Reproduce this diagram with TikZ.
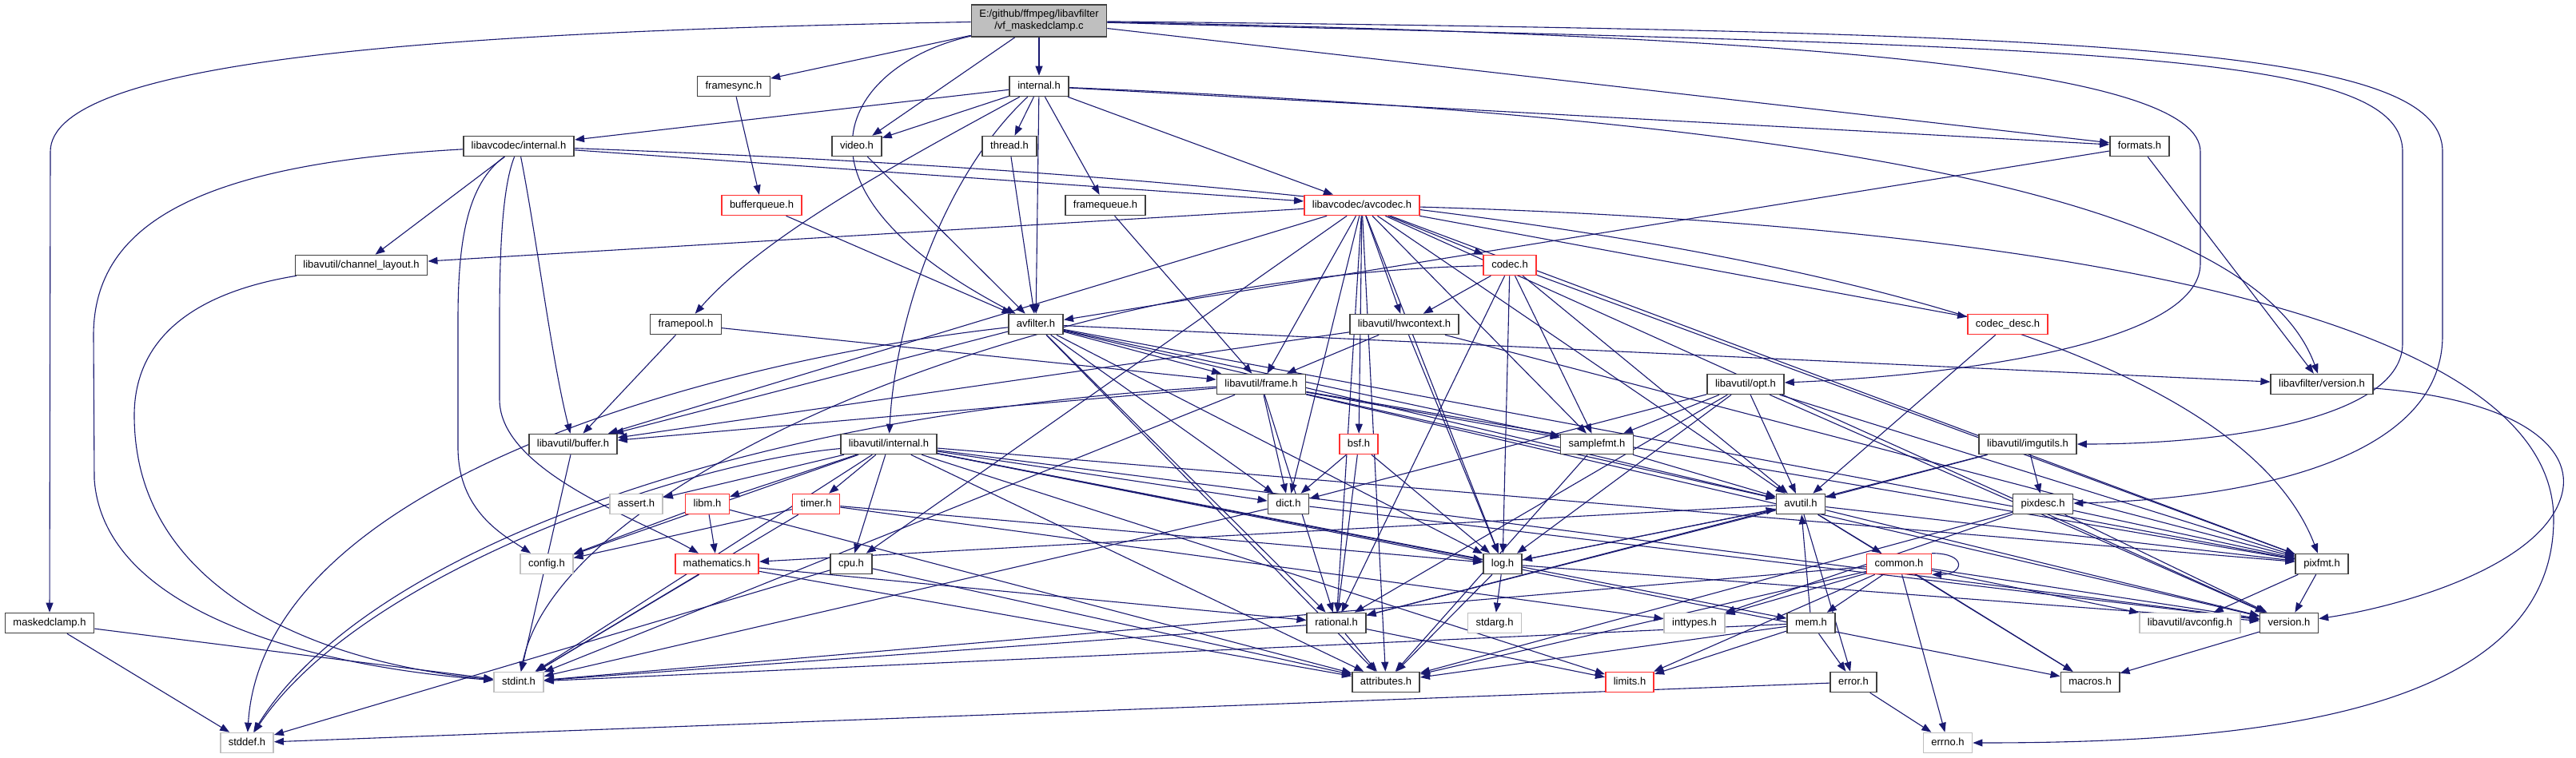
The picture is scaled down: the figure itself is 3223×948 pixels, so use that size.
\documentclass[tikz,border=0pt]{standalone}
\usepackage{fontspec}
\setmainfont{Liberation Sans}
\usetikzlibrary{arrows.meta}
\definecolor{edgeblue}{HTML}{191970}
\definecolor{nborder}{HTML}{404040}
\definecolor{rborder}{HTML}{FF3030}
\definecolor{gborder}{HTML}{BFBFBF}
\definecolor{mainfill}{HTML}{BFBFBF}
\pgfdeclarelayer{bg}
\pgfdeclarelayer{edges}
\pgfsetlayers{bg,edges,main}
\begin{document}
\begin{tikzpicture}[x=1pt,y=-1pt,
 base/.style={fill=white, line width=1.6pt, font=\fontsize{13}{15}\selectfont, minimum height=25pt, inner xsep=10pt, inner ysep=0pt, text height=9.5pt, text depth=2.5pt},
 nb/.style={base, draw=nborder},
 nr/.style={base, draw=rborder},
 ng/.style={base, draw=gborder},
 mainbox/.style={fill=mainfill, draw=nborder, line width=1.6pt, font=\fontsize{13}{15}\selectfont, minimum height=40pt, minimum width=169pt, inner xsep=8pt, inner ysep=3pt, align=center},
 e/.style={draw=edgeblue, line width=1.1pt, -{Triangle[length=12pt,width=9pt]}},
]
\begin{pgfonlayer}{bg}
\fill[white] (0,0) rectangle (3223,948);
\end{pgfonlayer}
\useasboundingbox (0,0) rectangle (3223,948);

\node[mainbox] (main) at (1300,26) {E:/github/ffmpeg/libavfilter\\/vf\_maskedclamp.c};
\node[nb] (framesync) at (918,108) {framesync.h};
\node[nb] (internal) at (1300,108) {internal.h};
\node[nb] (lavcinternal) at (649,183) {libavcodec/internal.h};
\node[nb] (video) at (1072,183) {video.h};
\node[nb] (thread) at (1263,183) {thread.h};
\node[nb] (formats) at (2677,183) {formats.h};
\node[nr] (bufferqueue) at (953,257) {bufferqueue.h};
\node[nb] (framequeue) at (1383,257) {framequeue.h};
\node[nr] (avcodec) at (1704,257) {libavcodec/avcodec.h};
\node[nb] (chlayout) at (452,332) {libavutil/channel\_layout.h};
\node[nr] (codec) at (1889,332) {codec.h};
\node[nb] (framepool) at (858,406) {framepool.h};
\node[nb] (avfilter) at (1296,406) {avfilter.h};
\node[nb] (hwcontext) at (1757,406) {libavutil/hwcontext.h};
\node[nr] (codecdesc) at (2512,406) {codec\_desc.h};
\node[nb] (frame) at (1578,481) {libavutil/frame.h};
\node[nb] (opt) at (2184,481) {libavutil/opt.h};
\node[nb] (lavfversion) at (2905,481) {libavfilter/version.h};
\node[nb] (buffer) at (717,556) {libavutil/buffer.h};
\node[nb] (lavuinternal) at (1112,556) {libavutil/internal.h};
\node[nr] (bsf) at (1700,556) {bsf.h};
\node[nb] (samplefmt) at (1998,556) {samplefmt.h};
\node[nb] (imgutils) at (2537,556) {libavutil/imgutils.h};
\node[ng] (assert) at (796,631) {assert.h};
\node[nr] (libm) at (885,631) {libm.h};
\node[nr] (timer) at (1021,631) {timer.h};
\node[nb] (dict) at (1612,631) {dict.h};
\node[nb] (avutil) at (2253,631) {avutil.h};
\node[nb] (pixdesc) at (2556,631) {pixdesc.h};
\node[ng] (config) at (684,706) {config.h};
\node[nr] (mathematics) at (897,706) {mathematics.h};
\node[nb] (cpu) at (1065,706) {cpu.h};
\node[nb] (log) at (1880,706) {log.h};
\node[nr] (common) at (2376,706) {common.h};
\node[nb] (pixfmt) at (2905,706) {pixfmt.h};
\node[nb] (maskedclamp) at (62,780) {maskedclamp.h};
\node[nb] (rational) at (1672,780) {rational.h};
\node[ng] (stdarg) at (1870,780) {stdarg.h};
\node[ng] (inttypes) at (2120,780) {inttypes.h};
\node[nb] (mem) at (2266,780) {mem.h};
\node[ng] (avconfig) at (2740,780) {libavutil/avconfig.h};
\node[nb] (version) at (2864,780) {version.h};
\node[ng] (stdint) at (649,854) {stdint.h};
\node[nb] (attributes) at (1734,854) {attributes.h};
\node[nr] (limits) at (2039,854) {limits.h};
\node[nb] (error) at (2319,854) {error.h};
\node[nb] (macros) at (2615,854) {macros.h};
\node[ng] (stddef) at (309,930) {stddef.h};
\node[ng] (errno) at (2437,930) {errno.h};

\begin{pgfonlayer}{edges}
\foreach \s/\t in {main/framesync, main/internal, main/video, main/formats,
 internal/video, internal/thread, internal/framequeue, internal/avfilter, internal/lavcinternal, internal/avcodec, internal/formats,
 framesync/bufferqueue, bufferqueue/avfilter, video/avfilter, thread/avfilter, framequeue/frame, framepool/buffer, framepool/frame, formats/avfilter, formats/lavfversion,
 lavcinternal/chlayout, lavcinternal/avcodec,
 avcodec/chlayout, avcodec/buffer, avcodec/codec, avcodec/hwcontext, avcodec/frame, avcodec/dict, avcodec/bsf, avcodec/samplefmt, avcodec/log, avcodec/avutil, avcodec/pixfmt, avcodec/rational, avcodec/attributes, avcodec/cpu, avcodec/codecdesc, avcodec/version,
 codec/hwcontext, codec/log, codec/rational, codec/samplefmt, codec/avutil, codec/pixfmt,
 hwcontext/frame, hwcontext/buffer, hwcontext/log, hwcontext/pixfmt,
 frame/buffer, frame/dict, frame/rational, frame/samplefmt, frame/avutil, frame/pixfmt, frame/version, frame/stdint,
 avfilter/frame, avfilter/buffer, avfilter/dict, avfilter/log, avfilter/samplefmt, avfilter/avutil, avfilter/pixfmt, avfilter/rational, avfilter/attributes, avfilter/lavfversion,
 opt/samplefmt, opt/avutil, opt/dict, opt/log, opt/rational, opt/pixfmt, opt/version,
 samplefmt/avutil, samplefmt/attributes, bsf/dict, bsf/log, bsf/rational, dict/stdint, dict/version, codecdesc/avutil,
 imgutils/avutil, imgutils/pixdesc, imgutils/rational,
 pixdesc/inttypes, pixdesc/attributes, pixdesc/pixfmt, pixdesc/version,
 avutil/common, avutil/error, avutil/rational, avutil/version, avutil/macros, avutil/mathematics, avutil/log, avutil/pixfmt,
 common/mem, common/inttypes, common/limits, common/errno, common/attributes, common/macros, common/version, common/avconfig, common/stdint,
 lavuinternal/assert, lavuinternal/libm, lavuinternal/timer, lavuinternal/cpu, lavuinternal/config, lavuinternal/stdint, lavuinternal/attributes, lavuinternal/dict, lavuinternal/macros, lavuinternal/mem, lavuinternal/pixfmt, lavuinternal/version, lavuinternal/limits, lavuinternal/log,
 libm/config, libm/attributes, libm/mathematics,
 timer/stdint, timer/inttypes, timer/log, timer/config,
 mathematics/stdint, mathematics/attributes, mathematics/rational,
 cpu/stddef, cpu/attributes,
 log/stdarg, log/avutil, log/attributes, log/version,
 rational/stdint, rational/limits, rational/attributes,
 mem/limits, mem/stdint, mem/attributes, mem/error, mem/avutil,
 error/errno, error/stddef,
 pixfmt/avconfig, pixfmt/version, version/macros, buffer/stdint,
 maskedclamp/stdint, maskedclamp/stddef}
 \draw[e] (\s) -- (\t);

\draw[e] (main) .. controls (500,40) and (63,80) .. (63,190) -- (maskedclamp);
\draw[e] (main) .. controls (1060,80) and (960,230) .. (avfilter);
\draw[e] (main) .. controls (2300,45) and (2753,90) .. (2753,190) -- (2753,330) .. controls (2753,430) and (2450,470) .. (opt);
\draw[e] (main) .. controls (2600,60) and (3006,60) .. (3006,190) -- (3006,430) .. controls (3006,520) and (2800,556) .. (imgutils);
\draw[e] (main) .. controls (2650,40) and (3056,60) .. (3056,190) -- (3056,420) .. controls (3056,580) and (2800,625) .. (pixdesc);
\draw[e] (internal) .. controls (1150,190) and (960,290) .. (framepool);
\draw[e] (internal) .. controls (1180,220) and (1120,400) .. (lavuinternal);
\draw[e] (internal) .. controls (2300,150) and (2820,250) .. (lavfversion);
\draw[e] (lavcinternal) .. controls (585,230) and (573,300) .. (573,400) -- (573,560) .. controls (573,640) and (630,670) .. (config);
\draw[e] (lavcinternal) .. controls (630,230) and (625,300) .. (625,400) -- (625,500) .. controls (625,590) and (800,650) .. (mathematics);
\draw[e] (lavcinternal) .. controls (672,300) and (690,450) .. (buffer);
\draw[e] (lavcinternal) .. controls (250,205) and (117,280) .. (117,420) -- (118,600) .. controls (130,770) and (400,835) .. (stdint);
\draw[e] (chlayout) .. controls (220,370) and (168,440) .. (168,520) .. controls (168,740) and (400,830) .. (stdint);
\draw[e] (lavcinternal) .. controls (1500,215) and (2750,300) .. (pixfmt);
\draw[e] (lavfversion) .. controls (3150,500) and (3222,560) .. (3205,620) .. controls (3180,710) and (3000,760) .. (version);
\draw[e] (avcodec) .. controls (2500,280) and (3195,380) .. (3195,650) .. controls (3195,900) and (2800,930) .. (errno);
\draw[e] (avfilter) .. controls (900,450) and (330,600) .. (stddef);
\draw[e] (frame) .. controls (900,520) and (450,700) .. (stddef);
\draw[e] (lavuinternal) .. controls (850,580) and (450,720) .. (stddef);
\draw[e] (codec) .. controls (1300,345) and (700,600) .. (stdint);
\draw[e] (common.north east) .. controls +(45,0) and +(40,0) .. (common.south east);
\end{pgfonlayer}
\end{tikzpicture}
\end{document}
